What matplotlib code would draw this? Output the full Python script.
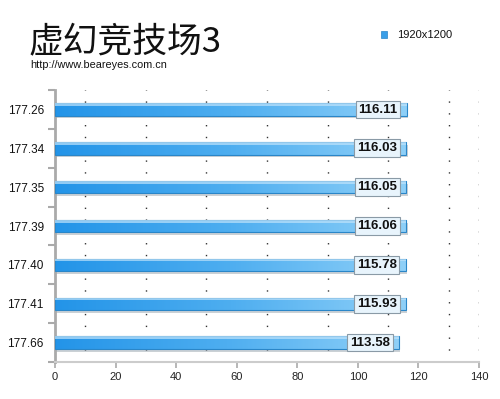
import numpy as np
import matplotlib.pyplot as plt
from matplotlib.patches import Rectangle
from matplotlib.colors import LinearSegmentedColormap

plt.rcParams['font.family'] = ['Liberation Sans', 'DejaVu Sans']

categories = ['177.26', '177.34', '177.35', '177.39', '177.40', '177.41', '177.66']
values = [116.11, 116.03, 116.05, 116.06, 115.78, 115.93, 113.58]
series_name = '1920x1200'
title = '虚幻竞技场3'
subtitle = 'http://www.beareyes.com.cn'

fig = plt.figure(figsize=(5, 3.99), dpi=100)
ax = fig.add_axes([0.11, 0.0927, 0.848, 0.6815])

cmap = LinearSegmentedColormap.from_list('bar', ['#2394e8', '#4eaef0', '#8fd0f8'])
grad = np.linspace(0, 1, 256).reshape(1, -1)
bh = 0.32

for i, v in enumerate(values):
    y = i
    # shadow under the bar
    ax.add_patch(Rectangle((0.4, y - bh / 2 + 0.07), v, bh, color='#8d99a3', alpha=0.45, lw=0, zorder=2))
    im = ax.imshow(grad, cmap=cmap, aspect='auto', extent=(0, v, y + bh / 2, y - bh / 2), zorder=3)
    edge = Rectangle((0, y - bh / 2), v, bh, fill=False, ec='#2a86c8', lw=0.8, zorder=4)
    ax.add_patch(edge)
    im.set_clip_path(edge)
    ax.add_patch(Rectangle((0, y - bh / 2), v, bh * 0.22, color='#bfe3fb', alpha=0.7, lw=0, zorder=4))
    # value box
    ax.text(v - 3.0, y, f'{v:.2f}', ha='right', va='center', fontsize=9.5, fontweight='bold', color='#111111',
            zorder=6, bbox=dict(boxstyle='square,pad=0.22', fc='#e8f4fc', ec='#8a9aa6', lw=0.8))

ax.set_xlim(0, 140)
ax.set_ylim(len(categories) - 0.5, -0.5)
ax.set_xticks(range(0, 141, 20))
ax.set_yticks(range(len(categories)))
ax.set_yticklabels(categories)
ax.set_yticks(np.arange(-0.5, len(categories), 1), minor=True)
ax.tick_params(axis='y', which='major', length=0, labelsize=8.5, pad=8, colors='#111111')
ax.tick_params(axis='y', which='minor', length=5, color='#aaaaaa', width=1.5)
ax.tick_params(axis='x', length=4, color='#aaaaaa', width=1.2, labelsize=8, labelcolor='#222222')

for gx in [10, 30, 50, 70, 90, 110, 130, 140]:
    ax.axvline(gx, color='#333333', lw=1, ls=(0, (1, 7.5)), zorder=1)

for s in ['top', 'right']:
    ax.spines[s].set_visible(False)
ax.spines['left'].set_color('#aaaaaa')
ax.spines['left'].set_linewidth(2)
ax.spines['bottom'].set_color('#cccccc')
ax.spines['bottom'].set_linewidth(1.5)

fig.text(0.058, 0.868, title, fontsize=25, fontweight='light',
         family=['Noto Sans CJK SC', 'DejaVu Sans'], color='#111111', va='baseline')
fig.text(0.06, 0.838, subtitle, fontsize=7.8, color='#111111', va='center')

# legend
fig.patches.append(Rectangle((0.762, 0.905), 0.011, 0.017, transform=fig.transFigure,
                             fc='#3a9fe8', ec='#2a86c8', lw=0.5))
fig.text(0.795, 0.913, series_name, fontsize=8, color='#111111', va='center')

fig.savefig('out.png', dpi=100)
